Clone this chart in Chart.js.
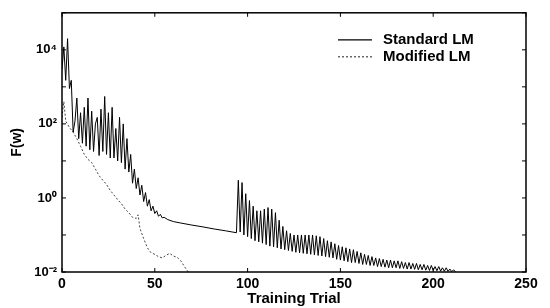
<!DOCTYPE html>
<html>
<head>
<meta charset="utf-8">
<script src="https://cdn.jsdelivr.net/npm/chart.js@4.4.1/dist/chart.umd.min.js"></script>
<style>
  html, body { margin: 0; padding: 0; background: #fff; }
</style>
</head>
<body>
<canvas id="lmChart" width="550" height="308"></canvas>
<script>
/* ============================================================
   F(w) vs training trial, standard vs modified LM
   ============================================================ */

// ── Standard LM: one value per trial, trials 0..55 ──
const stdEarlyStart = 0;
const stdEarly = [
  3000, 12000, 1500, 20000, 900, 1500, 60, 120, 500, 40,
  200, 30, 280, 25, 500, 20, 220, 18, 100, 150,
  14, 250, 18, 550, 15, 200, 12, 280, 12, 75,
  10, 150, 9, 100, 6, 40, 5, 15, 2.5, 6,
  1.8, 3.5, 1.2, 2.2, 0.8, 1.4, 0.6, 0.9, 0.45, 0.6,
  0.38, 0.45, 0.32, 0.36, 0.29, 0.3
];

// ── Standard LM: smooth stretch before the jump ──
const stdFlatTrials = [57, 60, 64, 70, 76, 82, 88, 94];
const stdFlat = [0.26, 0.23, 0.21, 0.185, 0.165, 0.145, 0.13, 0.115];

// ── Standard LM: one value per trial, trials 95..212 ──
const stdLateStart = 95;
const stdLate = [
  3.0, 0.12, 2.6, 0.1, 1.3, 0.09, 0.85, 0.08, 0.6, 0.07,
  0.45, 0.065, 0.45, 0.06, 0.5, 0.055, 0.55, 0.05, 0.5, 0.048,
  0.4, 0.045, 0.25, 0.042, 0.17, 0.04, 0.13, 0.038, 0.11, 0.036,
  0.1, 0.034, 0.1, 0.033, 0.1, 0.032, 0.1, 0.031, 0.1, 0.03,
  0.1, 0.029, 0.095, 0.028, 0.09, 0.027, 0.08, 0.026, 0.07, 0.025,
  0.065, 0.024, 0.058, 0.022, 0.052, 0.021, 0.048, 0.02, 0.045, 0.019,
  0.042, 0.018, 0.04, 0.018, 0.036, 0.017, 0.033, 0.016, 0.03, 0.016,
  0.028, 0.015, 0.026, 0.015, 0.024, 0.014, 0.023, 0.014, 0.022, 0.0135,
  0.021, 0.013, 0.021, 0.013, 0.02, 0.013, 0.02, 0.0125, 0.019, 0.0125,
  0.018, 0.012, 0.018, 0.012, 0.017, 0.0118, 0.017, 0.0115, 0.016, 0.0115,
  0.016, 0.0112, 0.015, 0.011, 0.015, 0.011, 0.014, 0.0108, 0.014, 0.0106,
  0.013, 0.0105, 0.013, 0.0104, 0.012, 0.0102, 0.0115, 0.0101
];

// ── Modified LM ──
const modTrials = [0, 1, 2, 4, 6, 8, 10, 12, 14, 16, 18, 20, 22, 24, 26, 28, 30, 32, 34,
  36, 38, 40, 41, 42, 44, 46, 48, 50, 52, 54, 56, 58, 60, 62, 64, 66, 68];
const modF = [150, 400, 120, 80, 60, 40, 25, 15, 11, 9, 6, 4, 3, 2.3, 1.6, 1.2, 0.9, 0.7, 0.5,
  0.4, 0.3, 0.28, 0.35, 0.15, 0.08, 0.045, 0.033, 0.03, 0.026, 0.024, 0.028, 0.032, 0.027, 0.025, 0.02, 0.014, 0.01];

// ── Axes ──
const xTicks = [0, 50, 100, 150, 200, 250];
const yTicks = [1e-2, 1e-1, 1e0, 1e1, 1e2, 1e3, 1e4, 1e5];
const yLabelled = [1e-2, 1e0, 1e2, 1e4];
const yLabelText = ['10⁻²', '10⁰', '10²', '10⁴'];

const seriesNames = ['Standard LM', 'Modified LM'];

// ── Build point lists ──
const stdPoints = [];
stdEarly.forEach((v, i) => stdPoints.push({ x: stdEarlyStart + i, y: v }));
stdFlatTrials.forEach((t, i) => stdPoints.push({ x: t, y: stdFlat[i] }));
stdLate.forEach((v, i) => stdPoints.push({ x: stdLateStart + i, y: v }));
const modPoints = modTrials.map((t, i) => ({ x: t, y: modF[i] }));

const FONT = "'Liberation Sans', Arial, sans-serif";

// frame, inward ticks and inset legend (MATLAB look)
const framePlugin = {
  id: 'frame',
  afterDraw(chart) {
    const { ctx, chartArea: a, scales: { x, y } } = chart;
    ctx.save();
    ctx.strokeStyle = '#000';
    ctx.lineWidth = 1.5;
    ctx.strokeRect(a.left, a.top, a.right - a.left, a.bottom - a.top);

    ctx.lineWidth = 1;
    ctx.beginPath();
    xTicks.forEach(v => {
      const px = x.getPixelForValue(v);
      ctx.moveTo(px, a.bottom); ctx.lineTo(px, a.bottom - 4);
      ctx.moveTo(px, a.top); ctx.lineTo(px, a.top + 4);
    });
    yTicks.forEach(v => {
      const py = y.getPixelForValue(v);
      ctx.moveTo(a.left, py); ctx.lineTo(a.left + 4, py);
      ctx.moveTo(a.right, py); ctx.lineTo(a.right - 4, py);
    });
    ctx.stroke();

    // legend
    const lx = a.right - 188, ly = a.top + 27;
    ctx.font = 'bold 15px ' + FONT;
    ctx.fillStyle = '#000';
    ctx.textBaseline = 'middle';
    chart.data.datasets.forEach((ds, i) => {
      const yy = ly + i * 17;
      ctx.setLineDash(ds.borderDash || []);
      ctx.strokeStyle = ds.borderColor;
      ctx.lineWidth = 1.2;
      ctx.beginPath();
      ctx.moveTo(lx, yy); ctx.lineTo(lx + 34, yy);
      ctx.stroke();
      ctx.setLineDash([]);
      ctx.fillText(seriesNames[i], lx + 45, yy);
    });
    ctx.restore();
  }
};

new Chart(document.getElementById('lmChart'), {
  type: 'line',
  data: {
    datasets: [{
      label: seriesNames[0],
      data: stdPoints,
      borderColor: '#000',
      borderWidth: 1,
      pointRadius: 0,
      tension: 0
    }, {
      label: seriesNames[1],
      data: modPoints,
      borderColor: '#444',
      borderWidth: 1,
      borderDash: [2, 2],
      pointRadius: 0,
      tension: 0
    }]
  },
  options: {
    responsive: false,
    animation: false,
    layout: { padding: { left: 0, top: 6, right: 24, bottom: 0 } },
    plugins: { legend: { display: false }, tooltip: { enabled: false } },
    scales: {
      x: {
        type: 'linear',
        min: 0, max: 250,
        afterBuildTicks: s => { s.ticks = xTicks.map(v => ({ value: v })); },
        afterFit: s => { s.height = 36; },
        grid: { display: false, drawTicks: false },
        border: { display: false },
        ticks: { color: '#000', padding: 4, font: { family: FONT, size: 14, weight: 'bold' } },
        title: {
          display: true, text: 'Training Trial', color: '#000', padding: 0,
          font: { family: FONT, size: 15, weight: 'bold' }
        }
      },
      y: {
        type: 'logarithmic',
        min: 1e-2, max: 1e5,
        afterBuildTicks: s => { s.ticks = yLabelled.map(v => ({ value: v })); },
        afterFit: s => { s.width = 62; },
        grid: { display: false, drawTicks: false },
        border: { display: false },
        ticks: {
          color: '#000', padding: 5,
          font: { family: FONT, size: 13, weight: 'bold' },
          callback: v => yLabelText[yLabelled.indexOf(v)]
        },
        title: {
          display: true, text: 'F(w)', color: '#000', padding: { top: 9, bottom: 0 },
          font: { family: FONT, size: 14, weight: 'bold' }
        }
      }
    }
  },
  plugins: [framePlugin]
});
</script>
</body>
</html>
